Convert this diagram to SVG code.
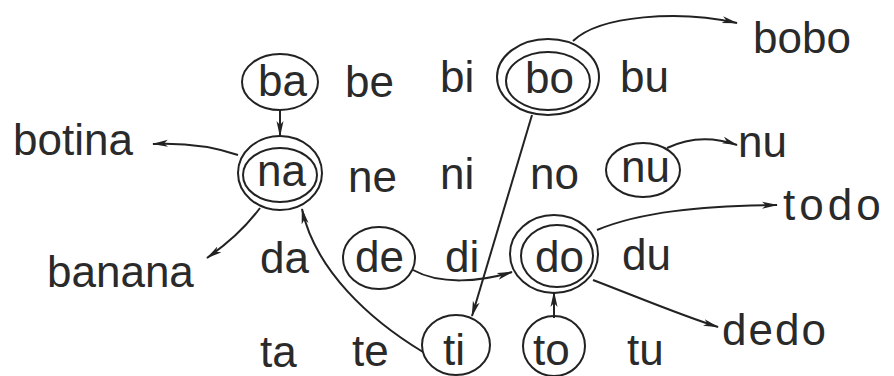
<svg xmlns="http://www.w3.org/2000/svg" width="894" height="376" viewBox="0 0 894 376">
<style>
text{font-family:"Liberation Sans",Arial,sans-serif;font-size:44px;fill:#2a2a2a}
ellipse{fill:none;stroke:#222;stroke-width:2}
.c path{fill:none;stroke:#222;stroke-width:2}
</style>
<defs>
<marker id="ah" viewBox="0 0 16 8" refX="15" refY="4" markerWidth="16" markerHeight="8" orient="auto" markerUnits="userSpaceOnUse">
<path d="M0,0.5 L16,4 L0,7.5 L4,4 z" fill="#222"/>
</marker>
</defs>
<rect width="894" height="376" fill="#fff"/>
<g id="n-ba"><ellipse cx="280" cy="82" rx="38" ry="28"/><text x="258" y="96">ba</text></g>
<g id="n-be"><text x="345" y="97">be</text></g>
<g id="n-bi"><text x="440" y="92">bi</text></g>
<g id="n-bo"><ellipse cx="548" cy="77" rx="51" ry="38"/><ellipse cx="548" cy="81" rx="42" ry="29"/><text x="525" y="93">bo</text></g>
<g id="n-bu"><text x="620" y="92">bu</text></g>
<g id="w-bobo"><text x="753" y="53">bobo</text></g>
<g id="w-botina"><text x="13" y="155">botina</text></g>
<g id="n-na"><ellipse cx="280" cy="173" rx="42" ry="37"/><ellipse cx="280" cy="175" rx="37" ry="27"/><text x="257" y="186">na</text></g>
<g id="n-ne"><text x="348" y="192">ne</text></g>
<g id="n-ni"><text x="440" y="189">ni</text></g>
<g id="n-no"><text x="530" y="189">no</text></g>
<g id="n-nu"><ellipse cx="643" cy="170" rx="37" ry="27"/><text x="621" y="182">nu</text></g>
<g id="w-nu"><text x="738" y="157">nu</text></g>
<g id="w-banana"><text x="47" y="287">banana</text></g>
<g id="n-da"><text x="260" y="273">da</text></g>
<g id="n-de"><ellipse cx="379" cy="258" rx="36" ry="31"/><text x="355" y="272">de</text></g>
<g id="n-di"><text x="445" y="272">di</text></g>
<g id="n-do"><ellipse cx="554" cy="254" rx="44" ry="39"/><ellipse cx="557" cy="256" rx="36" ry="31"/><text x="535" y="272">do</text></g>
<g id="n-du"><text x="622" y="270">du</text></g>
<g id="w-todo"><text x="783" y="220" letter-spacing="4">todo</text></g>
<g id="n-ta"><text x="260" y="367">ta</text></g>
<g id="n-te"><text x="352" y="366">te</text></g>
<g id="n-ti"><ellipse cx="456" cy="345" rx="34" ry="30"/><text x="443" y="365">ti</text></g>
<g id="n-to"><ellipse cx="554" cy="346" rx="31" ry="30"/><text x="533" y="365">to</text></g>
<g id="n-tu"><text x="627" y="365">tu</text></g>
<g id="w-dedo"><text x="722" y="345" letter-spacing="2">dedo</text></g>
<g class="c" id="connectors">
<path d="M238,155 Q200,142 153,144" marker-end="url(#ah)"/>
<path d="M260,208 Q240,235 207,258" marker-end="url(#ah)"/>
<path d="M280,110 L280,136" marker-end="url(#ah)"/>
<path d="M573,41 C600,15 680,10 737,23" marker-end="url(#ah)"/>
<path d="M667,148 Q700,132 737,145" marker-end="url(#ah)"/>
<path d="M532,115 L472,316" marker-end="url(#ah)"/>
<path d="M423,352 C370,320 315,270 302,209" marker-end="url(#ah)"/>
<path d="M413,270 C440,285 480,282 512,272" marker-end="url(#ah)"/>
<path d="M554,318 L554,292" marker-end="url(#ah)"/>
<path d="M597,230 C640,212 700,206 777,205" marker-end="url(#ah)"/>
<path d="M593,280 C640,298 680,315 718,327" marker-end="url(#ah)"/>
</g>
</svg>
